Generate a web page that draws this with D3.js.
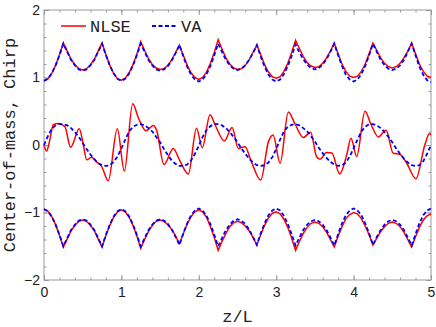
<!DOCTYPE html>
<html lang="en">
  <head>
    <meta charset="utf-8">
    <title>Center-of-mass and chirp, NLSE vs VA</title>
    <script src="https://cdn.jsdelivr.net/npm/d3@7"></script>
    <style>
      body { margin: 0; background: #fff; }
      .tick text { font-family: "Liberation Sans", sans-serif; font-size: 14px; fill: #222; }
      .tick line { stroke: #999; }
      .label { font-family: "Liberation Mono", monospace; font-size: 17px; fill: #222; }
    </style>
  </head>
  <body>
    <div class="chart"></div>
    <script>
      // sampled every 0.05 in z/L, from 0 to 5
      var zStep = 0.05;

      var chirpNLSE = [
        0.95, 0.98, 1.06, 1.18, 1.34, 1.51,
        1.39, 1.27, 1.19, 1.13, 1.11,
        1.13, 1.19, 1.27, 1.39, 1.51,
        1.34, 1.18, 1.06, 0.98, 0.96,
        0.99, 1.07, 1.19, 1.35, 1.53,
        1.40, 1.28, 1.19, 1.14, 1.12,
        1.13, 1.18, 1.26, 1.37, 1.48,
        1.33, 1.18, 1.07, 1.00, 0.97,
        1.00, 1.08, 1.21, 1.37, 1.56,
        1.42, 1.29, 1.20, 1.14, 1.12,
        1.13, 1.18, 1.26, 1.37, 1.48,
        1.34, 1.19, 1.08, 1.01, 0.99,
        1.01, 1.09, 1.21, 1.37, 1.55,
        1.43, 1.31, 1.22, 1.17, 1.15,
        1.16, 1.21, 1.29, 1.39, 1.51,
        1.35, 1.20, 1.09, 1.02, 1.00,
        1.02, 1.09, 1.20, 1.35, 1.51,
        1.40, 1.29, 1.21, 1.16, 1.14,
        1.16, 1.21, 1.29, 1.39, 1.51,
        1.35, 1.20, 1.09, 1.02, 1.00
      ];

      var chirpVA = [
        0.95, 0.98, 1.06, 1.18, 1.33, 1.50,
        1.38, 1.26, 1.18, 1.12, 1.10,
        1.12, 1.18, 1.26, 1.38, 1.50,
        1.33, 1.18, 1.06, 0.98, 0.95,
        0.98, 1.06, 1.18, 1.33, 1.50,
        1.38, 1.26, 1.18, 1.12, 1.10,
        1.12, 1.17, 1.25, 1.36, 1.48,
        1.31, 1.16, 1.04, 0.97, 0.94,
        0.97, 1.05, 1.17, 1.33, 1.50,
        1.38, 1.26, 1.18, 1.13, 1.11,
        1.13, 1.18, 1.26, 1.36, 1.48,
        1.31, 1.16, 1.04, 0.97, 0.94,
        0.97, 1.05, 1.17, 1.32, 1.49,
        1.37, 1.27, 1.19, 1.14, 1.12,
        1.14, 1.19, 1.27, 1.38, 1.50,
        1.33, 1.17, 1.04, 0.97, 0.94,
        0.97, 1.05, 1.17, 1.33, 1.50,
        1.38, 1.26, 1.18, 1.13, 1.11,
        1.13, 1.18, 1.26, 1.38, 1.50,
        1.33, 1.16, 1.04, 0.96, 0.93
      ];

      var widthNLSE = [
        -0.95, -0.98, -1.06, -1.18, -1.34, -1.51,
        -1.39, -1.27, -1.19, -1.13, -1.11,
        -1.13, -1.19, -1.27, -1.39, -1.51,
        -1.34, -1.19, -1.07, -0.99, -0.96,
        -0.99, -1.07, -1.19, -1.35, -1.53,
        -1.40, -1.28, -1.19, -1.13, -1.11,
        -1.13, -1.18, -1.25, -1.35, -1.46,
        -1.31, -1.17, -1.06, -0.99, -0.96,
        -0.99, -1.07, -1.21, -1.37, -1.56,
        -1.43, -1.31, -1.21, -1.15, -1.13,
        -1.15, -1.20, -1.27, -1.37, -1.48,
        -1.33, -1.19, -1.08, -1.01, -0.99,
        -1.02, -1.10, -1.22, -1.38, -1.56,
        -1.43, -1.31, -1.22, -1.16, -1.14,
        -1.16, -1.21, -1.29, -1.40, -1.51,
        -1.35, -1.21, -1.09, -1.03, -1.00,
        -1.02, -1.09, -1.20, -1.33, -1.48,
        -1.38, -1.28, -1.21, -1.16, -1.14,
        -1.16, -1.21, -1.29, -1.40, -1.51,
        -1.36, -1.22, -1.11, -1.05, -1.02
      ];

      var widthVA = [
        -0.95, -0.98, -1.06, -1.18, -1.33, -1.50,
        -1.38, -1.26, -1.18, -1.12, -1.10,
        -1.12, -1.18, -1.26, -1.38, -1.50,
        -1.33, -1.18, -1.06, -0.98, -0.95,
        -0.98, -1.06, -1.18, -1.33, -1.50,
        -1.38, -1.26, -1.18, -1.12, -1.10,
        -1.12, -1.17, -1.25, -1.36, -1.48,
        -1.31, -1.16, -1.04, -0.97, -0.94,
        -0.97, -1.05, -1.17, -1.33, -1.50,
        -1.38, -1.26, -1.18, -1.12, -1.10,
        -1.12, -1.17, -1.25, -1.36, -1.48,
        -1.31, -1.16, -1.04, -0.97, -0.94,
        -0.97, -1.05, -1.17, -1.32, -1.49,
        -1.37, -1.26, -1.18, -1.13, -1.11,
        -1.13, -1.18, -1.26, -1.37, -1.49,
        -1.32, -1.16, -1.04, -0.97, -0.94,
        -0.97, -1.04, -1.16, -1.31, -1.48,
        -1.36, -1.26, -1.18, -1.13, -1.11,
        -1.13, -1.18, -1.26, -1.37, -1.49,
        -1.32, -1.16, -1.04, -0.97, -0.94
      ];

      var comVA = [
        0.00, 0.13, 0.24, 0.29, 0.31, 0.31,
        0.29, 0.25, 0.19, 0.12, 0.03,
        -0.06, -0.14, -0.21, -0.27, -0.30,
        -0.31, -0.30, -0.25, -0.17, -0.05,
        0.08, 0.20, 0.27, 0.30, 0.31,
        0.29, 0.25, 0.20, 0.12, 0.04,
        -0.06, -0.15, -0.23, -0.28, -0.31,
        -0.31, -0.29, -0.23, -0.13, -0.01,
        0.12, 0.22, 0.28, 0.31, 0.31,
        0.29, 0.25, 0.19, 0.12, 0.04,
        -0.05, -0.13, -0.20, -0.26, -0.30,
        -0.31, -0.30, -0.26, -0.18, -0.06,
        0.08, 0.20, 0.27, 0.30, 0.31,
        0.29, 0.25, 0.20, 0.13, 0.05,
        -0.04, -0.12, -0.19, -0.25, -0.29,
        -0.31, -0.30, -0.26, -0.17, -0.05,
        0.08, 0.20, 0.27, 0.31, 0.31,
        0.29, 0.25, 0.19, 0.12, 0.04,
        -0.05, -0.13, -0.20, -0.26, -0.30,
        -0.31, -0.30, -0.24, -0.13, 0.00
      ];

      // NLSE center of mass is wiggly, read at its turning points
      var comNLSEz = [
        0.00, 0.034, 0.07, 0.12, 0.185, 0.27, 0.344, 0.456, 0.508, 0.551,
        0.616, 0.68, 0.745, 0.83, 0.947, 1.038, 1.146, 1.22, 1.318, 1.413,
        1.455, 1.55, 1.67, 1.75, 1.865, 1.97, 2.045, 2.145, 2.21, 2.33,
        2.43, 2.51, 2.597, 2.68, 2.80, 2.90, 2.96, 3.05, 3.157, 3.24,
        3.35, 3.445, 3.52, 3.566, 3.65, 3.72, 3.82, 3.91, 3.966, 4.04,
        4.147, 4.22, 4.32, 4.42, 4.51, 4.60, 4.686, 4.805, 4.92, 4.98, 5.00
      ];
      var comNLSE = [
        0.00, -0.09, 0.05, 0.30, 0.32, 0.27, -0.035, 0.24, 0.00, -0.22,
        -0.18, -0.25, -0.32, -0.53, 0.24, -0.385, 0.61, 0.40, 0.21, 0.29,
        0.22, -0.29, -0.05, -0.22, -0.43, 0.25, -0.04, 0.45, 0.30, 0.06,
        0.26, -0.05, -0.025, -0.25, -0.52, 0.05, 0.15, -0.27, 0.49, 0.32,
        0.11, 0.19, -0.17, -0.21, -0.11, -0.12, -0.43, -0.15, 0.10, -0.17,
        0.50, 0.32, 0.12, 0.22, -0.12, -0.14, -0.27, -0.50, 0.00, 0.17, 0.15
      ];

      var xMajor = [0, 1, 2, 3, 4, 5];
      var yMajor = [-2, -1, 0, 1, 2];

      var margin = {top: 10, right: 5, bottom: 47, left: 44},
          width = 436 - margin.left - margin.right,
          height = 327 - margin.top - margin.bottom;

      var svg = d3.select(".chart")
        .append("svg")
          .attr("width", width + margin.left + margin.right)
          .attr("height", height + margin.top + margin.bottom)
          .append("g")
            .attr("transform", "translate(" + margin.left + "," + margin.top + ")");

      var x = d3.scaleLinear().domain([0, 5]).range([0, width]);
      var y = d3.scaleLinear().domain([-2, 2]).range([height, 0]);

      var xMinor = d3.range(0, 5.001, 0.2);
      var yMinor = d3.range(-2, 2.001, 0.2);

      function noDomain(g) { g.select(".domain").remove(); }

      // minor ticks, all four sides, pointing inward
      svg.append("g").attr("transform", "translate(0," + height + ")")
        .call(d3.axisBottom(x).tickValues(xMinor).tickSize(-2.5).tickFormat("")).call(noDomain);
      svg.append("g")
        .call(d3.axisTop(x).tickValues(xMinor).tickSize(-2.5).tickFormat("")).call(noDomain);
      svg.append("g")
        .call(d3.axisLeft(y).tickValues(yMinor).tickSize(-2.5).tickFormat("")).call(noDomain);
      svg.append("g").attr("transform", "translate(" + width + ",0)")
        .call(d3.axisRight(y).tickValues(yMinor).tickSize(-2.5).tickFormat("")).call(noDomain);

      // major ticks
      svg.append("g").attr("transform", "translate(0," + height + ")")
        .call(d3.axisBottom(x).tickValues(xMajor).tickSize(-5).tickPadding(7).tickFormat(d3.format("d")))
        .call(noDomain);
      svg.append("g")
        .call(d3.axisTop(x).tickValues(xMajor).tickSize(-5).tickFormat("")).call(noDomain);
      svg.append("g")
        .call(d3.axisLeft(y).tickValues(yMajor).tickSize(-5).tickPadding(4).tickFormat(d3.format("d")))
        .call(noDomain);
      svg.append("g").attr("transform", "translate(" + width + ",0)")
        .call(d3.axisRight(y).tickValues(yMajor).tickSize(-5).tickFormat("")).call(noDomain);

      svg.selectAll(".tick text").attr("fill", "#222");

      svg.append("rect")
        .attr("width", width)
        .attr("height", height)
        .attr("fill", "none")
        .attr("stroke", "#999");

      var grid = function(i) { return i * zStep; };

      var uniformLine = d3.line()
        .x(function(d, i) { return x(grid(i)); })
        .y(function(d) { return y(d); });

      var nlseLine = d3.line()
        .x(function(d, i) { return x(comNLSEz[i]); })
        .y(function(d) { return y(d); })
        .curve(d3.curveMonotoneX);

      var plot = svg.append("g");

      function red(path) {
        path.attr("fill", "none").attr("stroke", "#ff0000").attr("stroke-width", 1.5);
      }
      function blue(path) {
        path.attr("fill", "none").attr("stroke", "#0000ff").attr("stroke-width", 1.8)
          .attr("stroke-dasharray", "4,2.5");
      }

      plot.append("path").attr("d", uniformLine(chirpNLSE)).call(red);
      plot.append("path").attr("d", nlseLine(comNLSE)).call(red);
      plot.append("path").attr("d", uniformLine(widthNLSE)).call(red);

      plot.append("path").attr("d", uniformLine(chirpVA)).call(blue);
      plot.append("path").attr("d", uniformLine(comVA)).call(blue);
      plot.append("path").attr("d", uniformLine(widthVA)).call(blue);

      // legend
      var legend = svg.append("g");
      legend.append("line").attr("x1", 17).attr("x2", 42).attr("y1", 16).attr("y2", 16)
        .attr("stroke", "#ff0000").attr("stroke-width", 1.5);
      legend.append("text").attr("class", "label").attr("x", 46).attr("y", 21.5).text("NLSE");
      legend.append("line").attr("x1", 108).attr("x2", 132).attr("y1", 16).attr("y2", 16)
        .call(blue);
      legend.append("text").attr("class", "label").attr("x", 137).attr("y", 21.5).text("VA");

      // axis titles
      svg.append("text").attr("class", "label")
        .attr("text-anchor", "middle")
        .attr("x", width / 2)
        .attr("y", height + 42)
        .text("z/L");

      svg.append("text").attr("class", "label")
        .attr("text-anchor", "middle")
        .attr("transform", "translate(" + (-29) + "," + (height / 2) + ") rotate(-90)")
        .text("Center-of-mass, Chirp");
    </script>
  </body>
</html>
